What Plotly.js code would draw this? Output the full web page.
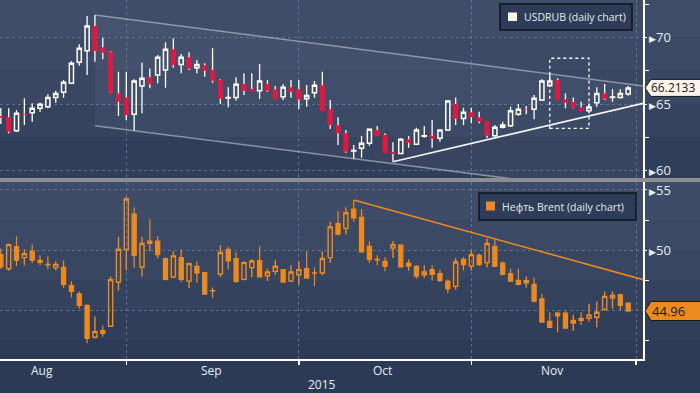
<!DOCTYPE html>
<html><head><meta charset="utf-8">
<script src="https://cdn.plot.ly/plotly-3.0.1.min.js"></script>
<style>html,body{margin:0;padding:0;background:#2d3a55;}#chart{width:700px;height:393px;}</style>
</head><body><div id="chart"></div>
<script>
// USDRUB daily candles (trading-day index 0..80, 7 Aug .. 27 Nov 2015)
const usdOpen  = [64.10,64.00,62.99,64.25,64.35,64.68,64.80,65.50,65.88,66.56,68.14,69.01,70.86,69.26,68.93,65.80,65.50,64.23,66.35,67.01,67.18,67.56,69.11,67.98,68.51,67.73,67.91,67.56,66.80,65.46,65.49,66.50,66.13,66.00,66.50,66.11,65.55,66.26,66.11,65.40,65.85,66.41,64.60,63.40,62.80,61.47,61.67,62.05,63.05,62.67,61.39,61.29,62.35,61.97,62.58,62.59,62.42,63.05,65.00,63.92,64.38,64.00,63.72,62.62,63.25,63.37,64.23,64.60,64.60,65.30,66.38,66.80,65.35,65.15,64.75,64.50,65.10,65.80,65.49,65.50,65.75];
const usdHigh  = [64.70,64.68,64.55,65.43,65.05,65.10,65.73,66.00,66.80,68.23,69.49,71.62,71.69,69.98,68.98,67.43,67.43,66.86,68.11,67.68,68.68,69.64,69.94,68.76,68.89,68.31,68.06,69.19,66.86,66.26,67.01,67.31,67.31,68.01,66.80,66.35,66.48,66.80,66.80,66.43,66.73,67.43,65.30,64.00,63.05,61.92,62.59,63.17,63.35,62.80,62.12,62.42,62.59,63.22,63.35,63.80,63.05,65.30,65.50,64.72,64.72,64.42,63.72,63.42,63.67,64.80,65.00,64.85,65.68,66.86,67.31,66.93,65.80,65.50,65.17,65.05,66.26,66.50,66.13,66.11,66.35];
const usdLow   = [63.50,62.80,62.92,63.42,63.67,64.42,64.68,65.10,65.47,66.50,67.88,67.18,68.18,68.36,65.83,64.10,63.80,62.99,64.30,66.18,66.56,66.23,67.73,67.31,67.56,67.31,67.05,66.60,65.00,64.75,65.26,65.68,65.95,65.38,65.92,65.38,65.30,65.47,64.62,64.80,65.47,64.50,63.12,61.92,61.34,60.86,60.96,61.86,62.62,61.34,60.66,61.29,61.71,61.92,62.47,61.71,62.17,62.99,63.42,63.42,63.55,63.55,62.42,62.54,63.17,63.29,64.10,64.23,63.85,65.23,66.30,65.35,64.68,64.68,64.50,64.47,64.80,65.30,65.17,65.43,65.62];
const usdClose = [63.97,62.92,64.30,64.20,64.68,64.98,65.50,65.80,66.63,68.06,69.19,70.86,68.98,68.86,65.85,65.17,64.17,66.73,66.93,66.48,68.51,69.11,67.93,68.51,67.65,67.98,67.50,66.75,65.40,65.49,66.48,66.00,65.95,66.73,66.00,65.38,66.26,65.92,65.35,65.65,66.41,64.50,63.42,62.80,61.41,61.50,62.05,63.10,62.62,61.34,61.26,62.35,62.09,63.05,62.61,62.39,63.05,65.23,63.89,64.38,64.00,63.67,62.62,63.25,63.42,64.50,64.60,64.58,65.43,66.73,66.73,65.35,65.10,64.72,64.50,64.77,65.80,65.38,65.53,65.80,66.2133];

// Brent daily candles
const brentOpen  = [49.64,48.47,50.28,49.39,49.92,49.17,48.83,48.56,48.58,47.08,46.39,45.42,42.78,43.33,43.69,47.36,50.06,53.00,48.61,50.75,50.75,49.31,47.78,49.39,47.44,48.67,48.14,46.66,48.03,50.08,49.31,47.58,48.56,49.14,47.89,48.25,48.39,47.44,47.97,48.47,48.13,48.11,49.39,52.22,51.81,53.42,52.72,50.33,49.24,49.08,50.19,50.42,48.94,48.67,47.97,48.39,48.06,47.44,47.00,49.25,48.69,49.58,48.97,50.33,48.94,48.06,47.50,47.31,47.17,45.97,44.11,44.78,44.78,43.97,44.36,44.36,44.44,45.08,46.03,46.31,45.61];
const brentHigh  = [50.14,50.56,51.17,50.08,50.50,49.58,49.50,49.08,49.17,47.42,46.58,45.50,44.50,43.75,47.83,51.11,54.44,53.56,51.11,52.58,51.17,49.40,49.92,50.08,48.97,49.08,48.20,46.94,50.42,50.28,49.81,49.08,49.25,50.33,48.47,49.17,48.45,48.75,49.08,49.92,48.56,49.92,52.36,53.25,53.56,54.17,53.42,50.75,49.58,49.44,50.75,50.45,49.25,48.75,48.75,48.75,48.39,47.58,49.36,49.44,50.00,49.72,50.97,50.92,49.08,48.47,48.47,47.83,47.72,46.39,44.86,44.92,44.95,44.64,44.86,45.56,45.75,46.58,46.58,46.39,45.69];
const brentLow   = [48.47,48.33,48.69,48.75,48.94,48.75,48.42,48.33,46.86,46.11,45.14,42.28,42.69,42.83,43.69,46.67,48.33,48.53,47.83,49.92,49.31,47.50,47.69,47.36,46.86,47.28,46.30,46.03,47.78,48.42,47.28,47.50,47.78,47.78,47.44,47.97,47.30,47.36,47.14,47.69,47.03,47.92,48.97,51.25,51.33,52.36,49.86,48.94,48.75,48.25,49.36,48.55,48.28,47.64,47.72,47.50,47.36,46.44,46.72,48.33,48.33,48.69,48.56,48.61,47.92,47.36,47.17,46.89,45.69,44.03,43.61,43.19,43.50,43.33,43.81,44.08,43.61,45.00,45.14,45.00,44.86];
const brentClose = [48.61,50.47,49.17,49.72,49.17,49.00,48.79,48.83,47.17,46.58,45.42,42.69,43.25,43.11,47.56,50.08,54.25,49.58,50.56,50.56,49.64,47.58,49.53,47.58,48.89,48.11,46.36,46.62,49.81,49.11,47.42,48.97,49.11,47.78,48.19,48.67,47.36,48.19,48.39,47.69,48.09,49.31,51.94,51.33,53.11,52.69,49.86,49.25,49.20,48.69,50.47,48.61,48.69,47.86,48.19,48.00,47.50,46.81,49.03,48.81,49.64,48.81,50.56,48.67,48.00,47.44,47.17,47.47,45.78,44.03,43.61,44.55,43.53,44.17,44.19,44.64,44.86,46.17,46.25,45.42,44.96];

// axis labels
const monthLabels = ['Aug','Sep','Oct','Nov'];
const monthMid    = [5.3, 26.9, 48.7, 70.3];
const monthEnds   = [16, 38, 60, 81];
const yearLabel   = '2015';
const usdTicks    = [60, 65, 70];
const brentTicks  = [45, 50, 55];

// drawn analysis lines [x0, y0, x1, y1]
const channelTop    = [12, 71.70, 81.9, 66.35];
const channelBottom = [12, 63.37, 81.9, 58.12];
const supportLine   = [50, 60.66, 81.9, 65.05];
const brentResist   = [45, 54.17, 81.9, 47.56];
const focusBox      = [70, 63.17, 75, 68.44];

const days = usdOpen.map((_, i) => i);
const lastUsd = usdClose[usdClose.length - 1];
const lastBrent = brentClose[brentClose.length - 1];

// wick segments for USDRUB (white wicks for all candles)
const wx = [], wy = [];
days.forEach(i => {
  const top = Math.max(usdOpen[i], usdClose[i]), bot = Math.min(usdOpen[i], usdClose[i]);
  wx.push(i, i, null, i, i, null);
  wy.push(usdHigh[i], top, null, bot, usdLow[i], null);
});

const RED = '#dd1b42', ORANGE = '#ec8a1f', CREAM = '#fdf3e9';
const traces = [
  {type:'scatter', mode:'lines', x:wx, y:wy, xaxis:'x', yaxis:'y',
   line:{color:'#ffffff', width:1.3}, hoverinfo:'skip', showlegend:false},
  {type:'candlestick', x:days, open:usdOpen, close:usdClose,
   high:days.map(i => Math.max(usdOpen[i], usdClose[i])),
   low:days.map(i => Math.min(usdOpen[i], usdClose[i])),
   xaxis:'x', yaxis:'y', showlegend:false,
   increasing:{line:{color:'#ffffff', width:1.5}, fillcolor:'rgba(0,0,0,0)'},
   decreasing:{line:{color:RED, width:1}, fillcolor:RED}},
  {type:'candlestick', x:days, open:brentOpen, high:brentHigh, low:brentLow, close:brentClose,
   xaxis:'x', yaxis:'y2', showlegend:false,
   increasing:{line:{color:ORANGE, width:1.4}, fillcolor:'rgba(0,0,0,0)'},
   decreasing:{line:{color:ORANGE, width:1.2}, fillcolor:ORANGE}}
];

const PW = 643, PH = 359;
const px = p => p / PW;
const py = p => (PH - p) / PH;
const XR = 700 / PW;

const shapes = [];
// background bands
const topBands = [[0,37.5,'#3f4d69'],[37.5,70.75,'#3c4a66'],[70.75,104,'#394763'],[104,137.25,'#35435f'],[137.25,178,'#313e5a']];
const botBands = [[182,220,'#3e4c68'],[220,250,'#3b4965'],[250,280,'#384662'],[280,310.5,'#35425e'],[310.5,340.5,'#313e5a'],[340.5,359,'#2e3b57']];
topBands.concat(botBands).forEach(b => shapes.push({type:'rect', xref:'paper', yref:'paper', x0:0, x1:XR, y0:py(b[1]), y1:py(b[0]), fillcolor:b[2], line:{width:0}, layer:'below'}));

// channel fill and lines
shapes.push({type:'path', xref:'x', yref:'y', layer:'below', line:{width:0}, fillcolor:'rgba(255,255,255,0.04)',
  path:`M${channelTop[0]},${channelTop[1]} L${channelTop[2]},${channelTop[3]} L${channelBottom[2]},${channelBottom[3]} L${channelBottom[0]},${channelBottom[1]} Z`});
[channelTop, channelBottom].forEach(l => shapes.push({type:'line', xref:'x', yref:'y', x0:l[0], y0:l[1], x1:l[2], y1:l[3], line:{color:'rgba(205,210,220,0.55)', width:1.5}}));
shapes.push({type:'line', xref:'x', yref:'y', x0:supportLine[0], y0:supportLine[1], x1:supportLine[2], y1:supportLine[3], line:{color:'rgba(255,255,255,0.95)', width:1.6}});
shapes.push({type:'rect', xref:'x', yref:'y', x0:focusBox[0], y0:focusBox[1], x1:focusBox[2], y1:focusBox[3], line:{color:'#ffffff', width:1.3, dash:'3px,3px'}});
shapes.push({type:'line', xref:'x', yref:'y2', x0:brentResist[0], y0:brentResist[1], x1:brentResist[2], y1:brentResist[3], line:{color:ORANGE, width:1.5}});

// separator
shapes.push({type:'rect', xref:'paper', yref:'paper', x0:0, x1:XR, y0:py(182), y1:py(178), fillcolor:'#8b8e93', line:{width:0}, layer:'above'});

// legend boxes
shapes.push({type:'rect', xref:'paper', yref:'paper', x0:px(500), x1:px(632), y0:py(30), y1:py(4), fillcolor:'#2e3c57', line:{color:'#0e1320', width:1.5}});
shapes.push({type:'rect', xref:'paper', yref:'paper', x0:px(508), x1:px(517), y0:py(21), y1:py(12.5), fillcolor:CREAM, line:{width:0}});
shapes.push({type:'rect', xref:'paper', yref:'paper', x0:px(479), x1:px(636), y0:py(220), y1:py(193), fillcolor:'#2e3c57', line:{color:'#0e1320', width:1.5}});
shapes.push({type:'rect', xref:'paper', yref:'paper', x0:px(486), x1:px(495), y0:py(210.5), y1:py(201.5), fillcolor:ORANGE, line:{width:0}});

// last price flags
function flag(yref, v, h, fill) {
  const t = px(645), b = px(651), r = XR + 0.02;
  return {type:'path', xref:'paper', yref:yref, layer:'above', fillcolor:fill, line:{color:'#15191f', width:1},
    path:`M${t},${v} L${b},${v+h} L${r},${v+h} L${r},${v-h} L${b},${v-h} Z`};
}
shapes.push(flag('y', lastUsd, 0.64, CREAM));
shapes.push(flag('y2', lastBrent, 0.79, ORANGE));

const txt = '#e6edf5';
const annotations = [];
monthLabels.forEach((m, k) => annotations.push({xref:'x', yref:'paper', x:monthMid[k], y:py(370), text:m, showarrow:false, xanchor:'center', yanchor:'middle', font:{family:'Open Sans', size:12, color:txt}}));
annotations.push({xref:'x', yref:'paper', x:41, y:py(384.5), text:yearLabel, showarrow:false, xanchor:'center', yanchor:'middle', font:{family:'Open Sans', size:12, color:txt}});
annotations.push({xref:'paper', yref:'paper', x:px(521.5), y:py(17), text:'USDRUB (daily chart)', showarrow:false, xanchor:'left', yanchor:'middle', font:{family:'Open Sans', size:10.5, color:'#e3e9f0'}});
annotations.push({xref:'paper', yref:'paper', x:px(500), y:py(206.5), text:'Нефть Brent (daily chart)', showarrow:false, xanchor:'left', yanchor:'middle', font:{family:'Open Sans', size:10.5, color:'#e3e9f0'}});
annotations.push({xref:'paper', yref:'y', x:px(650), y:lastUsd, text:lastUsd.toFixed(4), showarrow:false, xanchor:'left', yanchor:'middle', borderpad:0, font:{family:'Open Sans', size:12, color:'#1a1a1a'}});
annotations.push({xref:'paper', yref:'y2', x:px(651), y:lastBrent, text:lastBrent.toFixed(2), showarrow:false, xanchor:'left', yanchor:'middle', borderpad:0, font:{family:'Open Sans', size:13, color:'#1a1a1a'}});

const grid = 'rgba(105,135,165,0.7)';
const tri = '<span style="font-size:9px">▶</span>';
const yCommon = {side:'right', anchor:'x', showline:true, linecolor:'#ffffff', linewidth:1.5, zeroline:false,
  showgrid:true, gridcolor:grid, griddash:'3px,3px', gridwidth:1, ticks:'outside', ticklen:2, tickcolor:'#ffffff',
  tickfont:{family:'Open Sans', size:13, color:txt}, fixedrange:true};

const layout = {
  width:700, height:393, margin:{l:0, r:57, t:0, b:34},
  paper_bgcolor:'#2d3a55', plot_bgcolor:'rgba(0,0,0,0)', showlegend:false, boxgap:0.25,
  xaxis:{domain:[0,1], anchor:'y2', range:[-0.106, 81.89], rangeslider:{visible:false},
    tickmode:'array', tickvals:monthEnds, ticktext:monthEnds.map(() => ''), ticks:'outside', ticklen:4, tickwidth:1.5, tickcolor:'#ffffff',
    showline:true, linecolor:'#ffffff', linewidth:1.5, showgrid:true, gridcolor:grid, griddash:'3px,3px', zeroline:false, fixedrange:true},
  yaxis:Object.assign({}, yCommon, {domain:[py(178), 1], range:[59.44, 72.82],
    tickmode:'array', tickvals:usdTicks, ticktext:usdTicks.map(v => tri + v),
    minor:{tickmode:'array', tickvals:[62.5, 67.5, 72.5], ticks:'outside', ticklen:4, tickcolor:'#ffffff', showgrid:false}}),
  yaxis2:Object.assign({}, yCommon, {domain:[0, py(182)], range:[40.98, 55.66],
    tickmode:'array', tickvals:brentTicks, ticktext:brentTicks.map(v => v === 45 ? '' : tri + v),
    minor:{tickmode:'array', tickvals:[42.5, 47.5, 52.5], ticks:'outside', ticklen:4, tickcolor:'#ffffff', showgrid:false}}),
  shapes:shapes, annotations:annotations
};

Plotly.newPlot('chart', traces, layout, {displayModeBar:false, staticPlot:true});
</script></body></html>
